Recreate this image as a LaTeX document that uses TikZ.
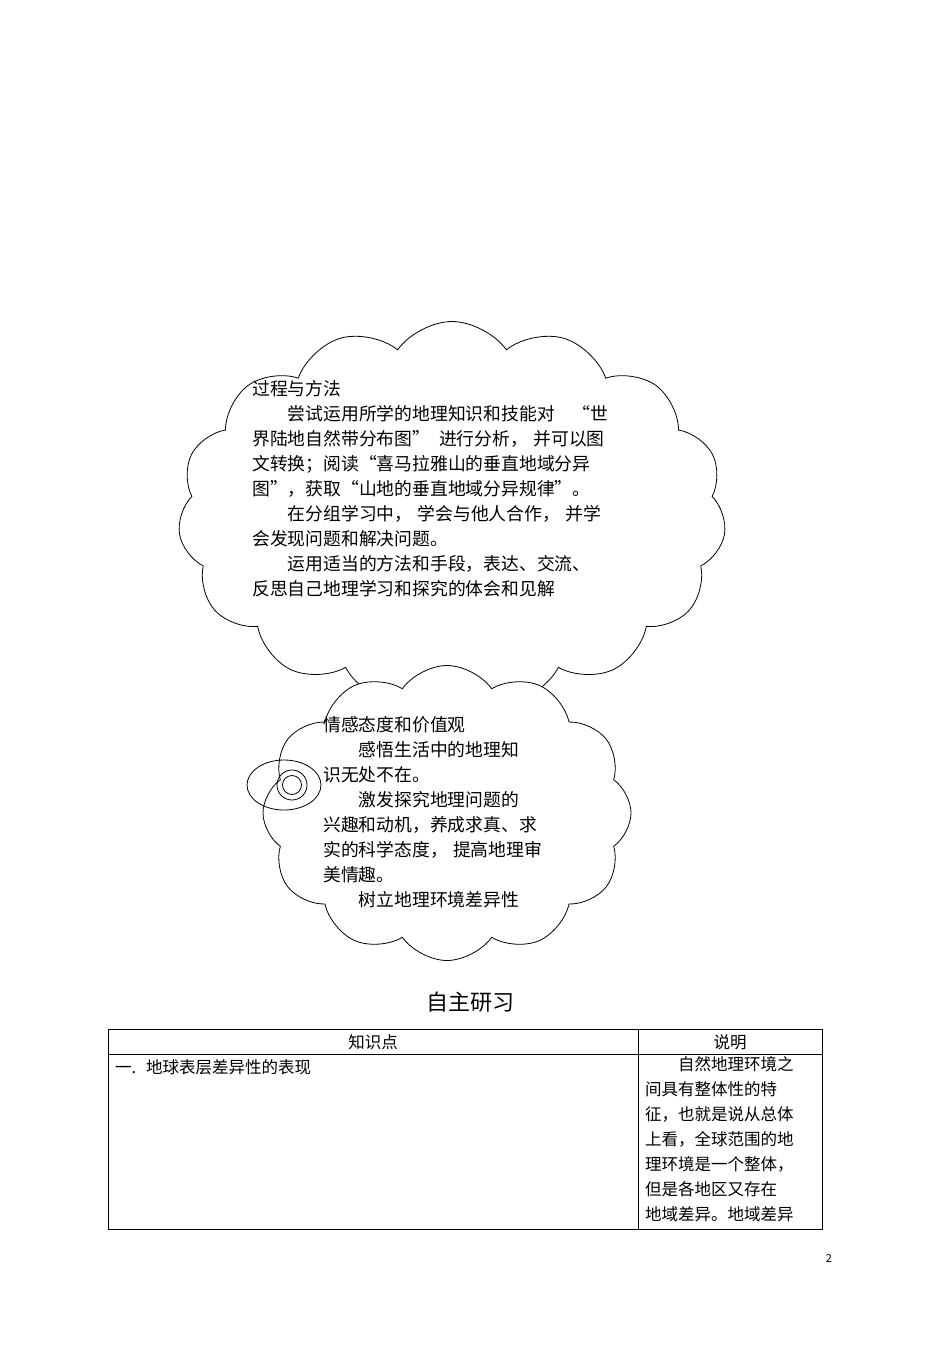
\documentclass[tikz,border=0pt]{standalone}
\usepackage{fontspec}
\setmainfont{Noto Sans CJK SC}
\usetikzlibrary{shapes.symbols,shapes.geometric}
\tikzset{
 cloudbox/.style={cloud, draw, line width=0.8pt, cloud puffs=15, cloud puff arc=110, inner sep=0pt},
 txt/.style={anchor=north west, align=left, font=\fontsize{17.8}{25}\selectfont, inner sep=0pt},
 cell/.style={font=\fontsize{16.5}{25}\selectfont, inner sep=0pt}
}
\begin{document}
\begin{tikzpicture}[x=1pt,y=-1pt]
\useasboundingbox (0,0) rectangle (950,1345);
\node[cloudbox, minimum width=548pt, minimum height=385pt] (c1) at (452,514) {};
\node[cloudbox, fill=white, minimum width=368pt, minimum height=295pt, cloud puffs=12] (c2) at (447,813) {};
\node[draw, ellipse, line width=0.8pt, minimum width=74pt, minimum height=50pt] (b) at (284,785) {};
\node[draw, circle, line width=0.8pt, minimum size=30pt] (b2) at (292,785) {};
\node[draw, circle, line width=0.8pt, minimum size=19pt] (b3) at (292,785) {};
\node[txt] (t1) at (252,380) {过程与方法\\
\hspace*{2em}尝试运用所学的地理知识和技能对\hspace{1em}“世\\
界陆地自然带分布图”\hspace{0.5em}进行分析，\hspace{0.3em}并可以图\\
文转换；阅读“喜马拉雅山的垂直地域分异\\
图”，获取“山地的垂直地域分异规律”。\\
\hspace*{2em}在分组学习中，\hspace{0.3em}学会与他人合作，\hspace{0.3em}并学\\
会发现问题和解决问题。\\
\hspace*{2em}运用适当的方法和手段，表达、交流、\\
反思自己地理学习和探究的体会和见解};
\node[txt] (t2) at (323,716) {情感态度和价值观\\
\hspace*{2em}感悟生活中的地理知\\
识无处不在。\\
\hspace*{2em}激发探究地理问题的\\
兴趣和动机，养成求真、求\\
实的科学态度，\hspace{0.3em}提高地理审\\
美情趣。\\
\hspace*{2em}树立地理环境差异性};
\node[font=\fontsize{22}{26}\selectfont] (title) at (470,1002) {自主研习};
\draw[line width=0.7pt] (108,1029) rectangle (822,1229);
\draw[line width=0.7pt] (108,1054) -- (822,1054);
\draw[line width=0.7pt] (638,1029) -- (638,1229);
\node[cell] (h1) at (373,1042) {知识点};
\node[cell] (h2) at (730,1042) {说明};
\node[cell, anchor=west] (r1) at (115,1067) {一.\hspace{0.6em}地球表层差异性的表现};
\node[cell, anchor=north west, align=left] (r2) at (645,1056) {\hspace*{2em}自然地理环境之\\间具有整体性的特\\征，也就是说从总体\\上看，全球范围的地\\理环境是一个整体，\\但是各地区又存在\\地域差异。地域差异};
\node[font=\fontsize{11}{13}\selectfont] (pg) at (829,1258) {2};
\end{tikzpicture}
\end{document}
